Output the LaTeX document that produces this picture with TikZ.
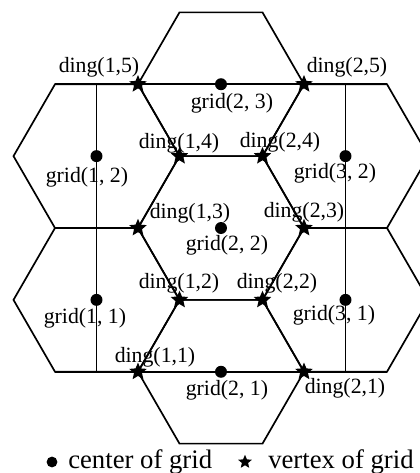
\documentclass[tikz,border=0pt]{standalone}
\usepackage{fontspec}
\setmainfont{Liberation Serif}
\usetikzlibrary{shapes.geometric, positioning}

\begin{document}
\begin{tikzpicture}[
    hexline/.style={black, line width=1.2pt, line join=miter},
    cdot/.style={circle, fill=black, minimum size=0.3cm, inner sep=0pt},
    vstar/.style={star, star points=5, star point ratio=2.2, fill=black, minimum size=0.46cm, inner sep=0pt},
    lbl/.style={inner sep=0pt, font=\fontsize{15.5}{18}\selectfont},
    legtxt/.style={inner sep=0pt, font=\fontsize{19}{22}\selectfont},
  ]

  \def\R{2.075} \def\h{1.797}

  \useasboundingbox (-5.525,-6.125) rectangle (4.975,5.7);
  \clip (-5.525,-6.125) rectangle (4.975,5.7);

  % --- hexagons ---
  \foreach \cx/\cy in {0/0, 0/{2*\h}, 0/{-2*\h}, {-1.5*\R}/\h, {-1.5*\R}/{-\h}, {1.5*\R}/\h, {1.5*\R}/{-\h}} {
    \draw[hexline] (\cx,\cy) ++(0:\R) -- ++(120:\R) -- ++(180:\R) -- ++(240:\R) -- ++(300:\R) -- ++(0:\R) -- cycle;
  }

  % --- inner lines ---
  \coordinate (tl) at ({-2*\R},{2*\h});
  \coordinate (tr) at ({2*\R},{2*\h});
  \coordinate (bl) at ({-2*\R},{-2*\h});
  \coordinate (br) at ({2*\R},{-2*\h});
  \coordinate (lt) at ({-1.5*\R},{2*\h});
  \coordinate (lb) at ({-1.5*\R},{-2*\h});
  \coordinate (rt) at ({1.5*\R},{2*\h});
  \coordinate (rb) at ({1.5*\R},{-2*\h});
  \draw[hexline] (tl) -- (tr);
  \draw[hexline] (bl) -- (br);
  \draw[hexline] (lt) -- (lb);
  \draw[hexline] (rt) -- (rb);

  % --- centers of grid ---
  \node[cdot] (g11) at ({-1.5*\R},{-\h}) {};
  \node[cdot] (g12) at ({-1.5*\R},\h) {};
  \node[cdot] (g21) at (0,{-2*\h}) {};
  \node[cdot] (g22) at (0,0) {};
  \node[cdot] (g23) at (0,{2*\h}) {};
  \node[cdot] (g31) at ({1.5*\R},{-\h}) {};
  \node[cdot] (g32) at ({1.5*\R},\h) {};

  % --- vertices of grid ---
  \node[vstar] (d11) at (-\R,{-2*\h}) {};
  \node[vstar] (d21) at (\R,{-2*\h}) {};
  \node[vstar] (d12) at ({-0.5*\R},-\h) {};
  \node[vstar] (d22) at ({0.5*\R},-\h) {};
  \node[vstar] (d13) at (-\R,0) {};
  \node[vstar] (d23) at (\R,0) {};
  \node[vstar] (d14) at ({-0.5*\R},\h) {};
  \node[vstar] (d24) at ({0.5*\R},\h) {};
  \node[vstar] (d15) at (-\R,{2*\h}) {};
  \node[vstar] (d25) at (\R,{2*\h}) {};

  % --- labels ---
  \node[lbl] (t15) at (-3.05,4.025) {ding(1,5)};
  \node[lbl] (t25) at (3.15,4.025) {ding(2,5)};
  \node[lbl] (s23) at (0.275,3.125) {grid(2, 3)};
  \node[lbl] (t14) at (-1.05,2.125) {ding(1,4)};
  \node[lbl] (t24) at (1.475,2.15) {ding(2,4)};
  \node[lbl] (s12) at (-3.35,1.275) {grid(1, 2)};
  \node[lbl] (s32) at (2.85,1.375) {grid(3, 2)};
  \node[lbl] (t13) at (-0.775,0.375) {ding(1,3)};
  \node[lbl] (s22) at (0.15,-0.425) {grid(2, 2)};
  \node[lbl] (t23) at (2.075,0.4) {ding(2,3)};
  \node[lbl] (t12) at (-1.05,-1.375) {ding(1,2)};
  \node[lbl] (t22) at (1.4,-1.375) {ding(2,2)};
  \node[lbl] (s11) at (-3.4,-2.25) {grid(1, 1)};
  \node[lbl] (s31) at (2.825,-2.175) {grid(3, 1)};
  \node[lbl] (t11) at (-1.65,-3.225) {ding(1,1)};
  \node[lbl] (s21) at (0.15,-4.05) {grid(2, 1)};
  \node[lbl] (t21) at (3.1,-4.0) {ding(2,1)};

  % --- legend ---
  \node[cdot, minimum size=0.27cm] (ldot) at (-4.225,-5.85) {};
  \node[legtxt, anchor=west] (ltxt1) at (-3.825,-5.85) {center of grid};
  \node[vstar, minimum size=0.36cm] (lstar) at (0.6,-5.85) {};
  \node[legtxt, anchor=west] (ltxt2) at (1.175,-5.85) {vertex of grid};

\end{tikzpicture}
\end{document}
